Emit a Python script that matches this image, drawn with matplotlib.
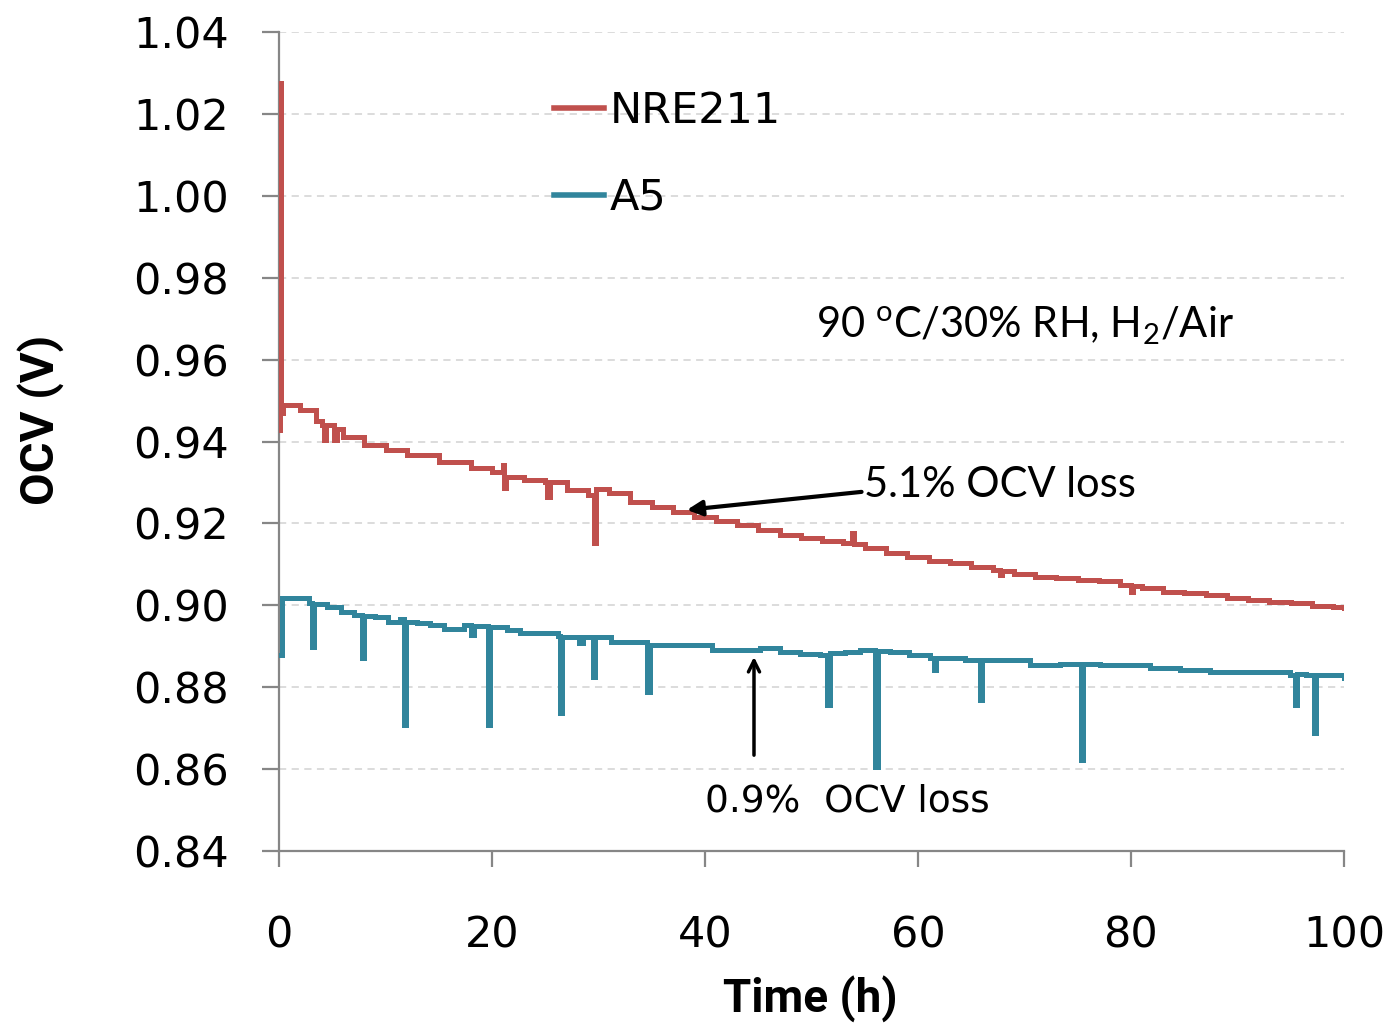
import matplotlib
matplotlib.use("Agg")
import matplotlib.pyplot as plt
import numpy as np

plt.rcParams['mathtext.fontset'] = 'custom'
plt.rcParams['mathtext.rm'] = 'Lato'

# NRE211 (red) OCV vs time
t_nre = [0, 0.1, 0.2, 0.4, 2.0, 3.5, 4.0, 4.2, 4.4, 5.0, 5.2, 5.4, 6.0, 8.0, 10.0, 12.0,
         15.0, 18.0, 20.0, 21.0, 21.1, 21.3, 21.5, 23.0, 25.0, 25.2, 25.4, 27.0, 29.0,
         29.6, 29.8, 31.0, 33.0, 35.0, 37.0, 39.0, 41.0, 43.0, 45.0, 47.0, 49.0, 51.0,
         53.0, 53.8, 54.0, 55.0, 57.0, 59.0, 61.0, 63.0, 65.0, 67.0, 67.7, 67.9, 69.0,
         71.0, 73.0, 75.0, 77.0, 79.0, 80.0, 80.2, 81.0, 83.0, 85.0, 87.0, 89.0, 91.0,
         93.0, 95.0, 97.0, 99.0, 100.0]
v_nre = [0.9428, 1.0275, 0.9470, 0.9490, 0.9477, 0.9450, 0.9440, 0.9404, 0.9440, 0.9440,
         0.9404, 0.9430, 0.9411, 0.9391, 0.9379, 0.9367, 0.9350, 0.9335, 0.9326, 0.9343,
         0.9286, 0.9313, 0.9313, 0.9306, 0.9301, 0.9264, 0.9300, 0.9282, 0.9269, 0.9152,
         0.9285, 0.9274, 0.9252, 0.9240, 0.9228, 0.9216, 0.9206, 0.9196, 0.9184, 0.9172,
         0.9164, 0.9157, 0.9152, 0.9177, 0.9150, 0.9140, 0.9128, 0.9118, 0.9108, 0.9103,
         0.9094, 0.9086, 0.9074, 0.9084, 0.9076, 0.9069, 0.9067, 0.9062, 0.9060, 0.9050,
         0.9032, 0.9048, 0.9042, 0.9032, 0.9030, 0.9025, 0.9018, 0.9013, 0.9008, 0.9006,
         0.8998, 0.8996, 0.8993]

# A5 (blue) OCV vs time
t_a5 = [0, 0.3, 1.5, 2.8, 3.1, 3.3, 4.5, 5.8, 7.0, 7.8, 8.0, 9.0, 10.2, 11.4, 11.7, 11.9,
        13.0, 14.2, 15.5, 17.4, 18.0, 18.3, 19.6, 19.8, 21.4, 22.6, 25.6, 26.2, 26.4,
        26.6, 28.2, 28.5, 29.5, 29.7, 31.2, 32.8, 34.6, 34.8, 36.0, 38.2, 40.7, 44.7,
        45.2, 47.0, 48.9, 50.8, 51.5, 51.7, 53.1, 54.6, 56.0, 56.2, 57.4, 59.2, 61.1,
        61.5, 61.7, 63.0, 64.4, 65.8, 66.0, 67.7, 69.6, 70.5, 73.3, 75.3, 75.5, 77.1,
        79.9, 81.8, 84.6, 87.4, 90.2, 93.1, 94.9, 95.4, 95.6, 96.4, 97.2, 97.4, 98.9,
        100.0]
v_a5 = [0.8879, 0.9017, 0.9017, 0.9005, 0.8899, 0.9003, 0.8997, 0.8984, 0.8976, 0.8871,
        0.8974, 0.8972, 0.8960, 0.8966, 0.8708, 0.8958, 0.8956, 0.8952, 0.8941, 0.8952,
        0.8928, 0.8950, 0.8708, 0.8948, 0.8940, 0.8932, 0.8932, 0.8925, 0.8737, 0.8923,
        0.8907, 0.8923, 0.8826, 0.8923, 0.8911, 0.8911, 0.8789, 0.8903, 0.8903, 0.8903,
        0.8891, 0.8891, 0.8896, 0.8886, 0.8881, 0.8879, 0.8757, 0.8884, 0.8886, 0.8891,
        0.8605, 0.8888, 0.8886, 0.8879, 0.8871, 0.8842, 0.8871, 0.8871, 0.8867, 0.8769,
        0.8867, 0.8867, 0.8867, 0.8854, 0.8857, 0.8622, 0.8857, 0.8854, 0.8854, 0.8847,
        0.8842, 0.8837, 0.8837, 0.8837, 0.8830, 0.8757, 0.8832, 0.8830, 0.8688, 0.8830,
        0.8830, 0.8823]

y_ticks = [0.84, 0.86, 0.88, 0.90, 0.92, 0.94, 0.96, 0.98, 1.00, 1.02, 1.04]
x_ticks = [0, 20, 40, 60, 80, 100]

red = '#C0504D'
blue = '#31859C'
axis_gray = '#868686'

fig = plt.figure(figsize=(13.94, 10.24), dpi=100)
ax = fig.add_axes([279 / 1394, 1 - 851 / 1024, 1065 / 1394, 819 / 1024])

ax.plot(t_nre, v_nre, color=red, lw=3.6, drawstyle='steps-post', label='NRE211', zorder=3,
        solid_joinstyle='miter')
ax.plot(t_a5, v_a5, color=blue, lw=3.6, drawstyle='steps-post', label='A5', zorder=3,
        solid_joinstyle='miter')

ax.set_xlim(0, 100)
ax.set_ylim(0.84, 1.04)
ax.set_xticks(x_ticks)
ax.set_yticks(y_ticks)
ax.set_yticklabels(['%.2f' % v for v in y_ticks])
ax.grid(axis='y', color='#D9D9D9', ls=(0, (4, 3)), lw=1.3)
ax.set_axisbelow(True)

for s in ['top', 'right']:
    ax.spines[s].set_visible(False)
for s in ['left', 'bottom']:
    ax.spines[s].set_color(axis_gray)
    ax.spines[s].set_linewidth(1.6)
ax.tick_params(axis='y', length=12, width=1.6, color=axis_gray, pad=24, labelsize=31)
ax.tick_params(axis='x', length=11.5, width=1.6, color=axis_gray, pad=34, labelsize=31)

ax.set_ylabel('OCV (V)', fontsize=34, fontweight='bold', family='Roboto')
ax.set_xlabel('Time (h)', fontsize=33, fontweight='bold', family='Roboto')
ax.yaxis.set_label_coords(-0.202, 0.526)
ax.xaxis.set_label_coords(0.499, -0.152)

leg = ax.legend(loc='upper left', bbox_to_anchor=(0.222, 0.977), frameon=False,
                fontsize=31, handlelength=1.15,
                handletextpad=0.15, labelspacing=1.05)
for h in leg.get_lines():
    h.set_linewidth(4)

ax.text(50.4, 0.9682, '90 $^{\\rm o}$C/30% RH, H$_{\\rm 2}$/Air', fontsize=30,
        family='Lato', va='center', ha='left')

ax.annotate('', xy=(38.3, 0.9233), xytext=(54.7, 0.9277),
            arrowprops=dict(arrowstyle='-|>,head_length=0.9,head_width=0.45',
                            color='black', lw=3, shrinkA=0, shrinkB=0))
ax.text(54.9, 0.9294, '5.1% OCV loss', fontsize=30, family='Lato', va='center', ha='left')

ax.annotate('', xy=(44.6, 0.8874), xytext=(44.6, 0.8634),
            arrowprops=dict(arrowstyle='->,head_length=0.8,head_width=0.4',
                            color='black', lw=2.5, shrinkA=0, shrinkB=0))
ax.text(53.4, 0.8522, '0.9%  OCV loss', fontsize=27, va='center', ha='center')

fig.savefig('out.png', dpi=100)
